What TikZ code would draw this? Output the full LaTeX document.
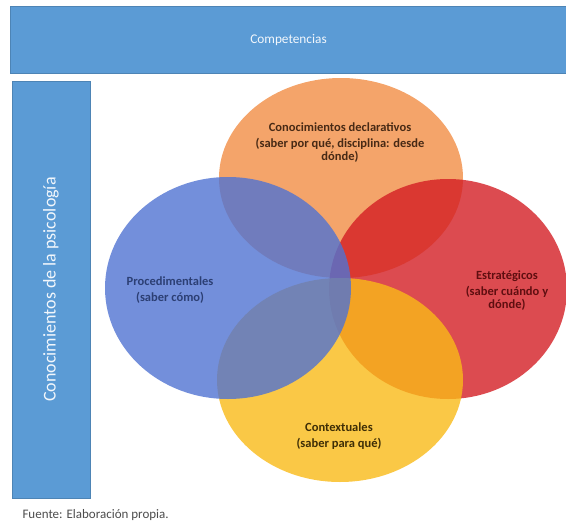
\documentclass[tikz,border=0pt]{standalone}
\usepackage{fontspec}
\setmainfont{Carlito}
\definecolor{barblue}{RGB}{91,155,213}
\definecolor{cOrange}{RGB}{241,141,69}
\definecolor{cRed}{RGB}{211,30,36}
\definecolor{cYellow}{RGB}{249,186,24}
\definecolor{cBlue}{RGB}{80,115,210}
\tikzset{
  bar/.style={fill=barblue, draw=barblue!85!black, line width=0.6pt, inner sep=0pt,
    text=white!92!barblue, font=\fontsize{18}{21}\selectfont},
  blob/.style={fill opacity=0.8},
  lbl/.style={align=center, font=\bfseries\fontsize{12.5}{13}\selectfont}
}
\begin{document}
\begin{tikzpicture}[x=1pt,y=-1pt]
\useasboundingbox (0,0) rectangle (566,525);

\node[bar, minimum width=556pt, minimum height=67pt, font=\fontsize{13.3}{16}\selectfont]
  (comp) at (288.5,39.5) {Competencias};
\node[bar, minimum width=417pt, minimum height=78pt, rotate=90]
  (psico) at (51,289.5) {Conocimientos de la psicología};

\fill[blob, cOrange] (341,178) ellipse [x radius=122pt, y radius=100pt];
\fill[blob, cRed]    (448,289) ellipse [x radius=119pt, y radius=110pt];
\fill[blob, cYellow] (340,380) ellipse [x radius=123pt, y radius=102pt];
\fill[blob, cBlue]   (228,288) ellipse [x radius=123pt, y radius=111pt];

\node[lbl, text=cOrange!30!black] (decl) at (340,143)
  {Conocimientos declarativos\\[3pt](saber por qué, disciplina: desde\\dónde)};
\node[lbl, text=cBlue!55!black] (proc) at (170,290)
  {Procedimentales\\[3pt](saber cómo)};
\node[lbl, text=cRed!45!black] (estr) at (507,291)
  {Estratégicos\\[3pt](saber cuándo y\\dónde)};
\node[lbl, text=cYellow!25!black] (cont) at (339,436)
  {Contextuales\\[3pt](saber para qué)};

\node[anchor=west, text=black!70, font=\fontsize{13}{15}\selectfont]
  (fuente) at (19,515) {Fuente: Elaboración propia.};
\end{tikzpicture}
\end{document}
